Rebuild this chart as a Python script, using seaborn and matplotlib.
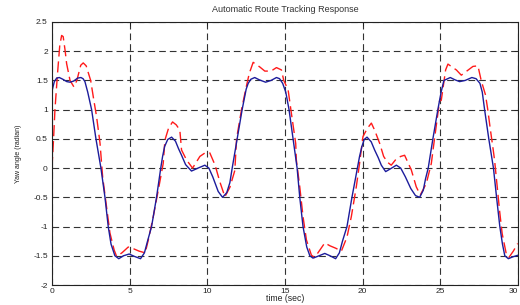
import numpy as np
import pandas as pd
import matplotlib
matplotlib.use("Agg")
import matplotlib.pyplot as plt
import seaborn as sns

# ---- data ----
blue_t = [0.00, 0.15, 0.30, 0.47, 0.70, 0.95, 1.16, 1.40, 1.65, 1.86, 2.00, 2.12, 2.30, 2.55, 2.83,
          3.15, 3.41, 3.62, 3.80, 4.05, 4.30, 4.60, 4.97, 5.30, 5.70, 5.95, 6.15, 6.41, 6.73, 7.00,
          7.12, 7.25, 7.45, 7.70, 7.95, 8.15, 8.34, 8.60, 8.98, 9.40, 9.84, 10.10, 10.35, 10.70,
          10.98, 11.25, 11.45, 11.60, 11.92, 12.24, 12.50, 12.63, 12.80, 13.05, 13.35, 13.75, 14.10,
          14.45, 14.65, 14.85, 15.05, 15.26, 15.52, 15.78, 15.95, 16.16, 16.40, 16.60, 16.80, 17.10,
          17.56, 17.90, 18.26, 18.50, 18.70, 18.99, 19.31, 19.66, 19.80, 19.95, 20.10, 20.28, 20.55,
          20.77, 21.00, 21.20, 21.48, 21.80, 22.17, 22.45, 22.75, 23.10, 23.40, 23.67, 23.90, 24.05,
          24.22, 24.52, 24.84, 25.05, 25.23, 25.64, 25.95, 26.24, 26.60, 27.03, 27.30, 27.55, 27.70,
          27.85, 28.12, 28.42, 28.62, 28.83, 29.00, 29.15, 29.38, 29.65, 30.00]
blue_v = [1.32, 1.48, 1.54, 1.55, 1.52, 1.48, 1.47, 1.49, 1.54, 1.55, 1.53, 1.48, 1.30, 1.00, 0.50,
          0.00, -0.50, -1.00, -1.30, -1.50, -1.55, -1.50, -1.47, -1.51, -1.55, -1.45, -1.25, -1.00, -0.50, 0.00,
          0.20, 0.37, 0.49, 0.53, 0.46, 0.33, 0.22, 0.06, -0.05, 0.00, 0.05, 0.00, -0.15, -0.40,
          -0.50, -0.42, -0.25, 0.00, 0.50, 1.00, 1.35, 1.45, 1.52, 1.55, 1.51, 1.47, 1.50,
          1.55, 1.53, 1.45, 1.30, 1.00, 0.50, 0.00, -0.50, -1.00, -1.35, -1.50, -1.54, -1.51,
          -1.46, -1.50, -1.55, -1.45, -1.25, -1.00, -0.50, 0.00, 0.20, 0.37, 0.49, 0.53, 0.45,
          0.31, 0.18, 0.05, -0.06, -0.01, 0.05, 0.00, -0.15, -0.35, -0.47, -0.50, -0.38, -0.18,
          0.00, 0.50, 1.00, 1.30, 1.50, 1.55, 1.51, 1.48, 1.50, 1.55, 1.53, 1.45, 1.30,
          1.00, 0.50, 0.00, -0.50, -1.00, -1.30, -1.50, -1.55, -1.52, -1.49]

red_t = [0.00, 0.10, 0.19, 0.35, 0.50, 0.62, 0.72, 0.85, 0.94, 1.16, 1.41, 1.60, 1.85, 2.01, 2.20,
         2.35, 2.49, 2.70, 2.87, 3.09, 3.26, 3.51, 3.73, 4.00, 4.16, 4.50, 4.91, 5.25, 5.60, 6.00,
         6.20, 6.52, 6.84, 7.16, 7.27, 7.50, 7.76, 8.00, 8.23, 8.34, 8.66, 9.05, 9.52, 9.85, 10.16,
         10.50, 10.80, 11.13, 11.45, 11.77, 11.88, 12.20, 12.48, 12.70, 12.95, 13.38, 13.70, 14.10,
         14.45, 14.77, 14.92, 15.20, 15.41, 15.69, 15.73, 15.95, 16.16, 16.38, 16.70, 16.91, 17.25,
         17.56, 17.90, 18.26, 18.63, 18.99, 19.27, 19.59, 19.80, 20.02, 20.30, 20.56, 20.77, 21.10,
         21.35, 21.60, 21.84, 22.17, 22.45, 22.70, 23.13, 23.45, 23.71, 24.10, 24.42, 24.55, 24.75,
         24.95, 25.06, 25.34, 25.49, 25.75, 26.03, 26.35, 26.70, 27.10, 27.42, 27.63, 27.91, 28.06,
         28.21, 28.38, 28.49, 28.64, 28.81, 28.98, 29.24, 29.41, 29.70, 29.98]
red_v = [0.00, 0.50, 1.00, 1.60, 2.10, 2.27, 2.25, 2.00, 1.79, 1.50, 1.39, 1.50, 1.76, 1.80, 1.75,
         1.62, 1.50, 1.15, 0.88, 0.43, -0.15, -0.66, -1.11, -1.40, -1.51, -1.45, -1.35, -1.38, -1.42, -1.45,
         -1.23, -0.83, -0.38, 0.08, 0.48, 0.68, 0.79, 0.74, 0.65, 0.31, 0.14, 0.00, 0.20, 0.26, 0.26,
         0.05, -0.23, -0.49, -0.33, -0.04, 0.50, 1.00, 1.36, 1.62, 1.81, 1.73, 1.66, 1.66,
         1.72, 1.68, 1.50, 1.34, 0.94, 0.42, 0.14, -0.32, -0.83, -1.23, -1.49, -1.53, -1.40,
         -1.28, -1.33, -1.37, -1.42, -1.18, -0.83, -0.32, 0.08, 0.54, 0.68, 0.77, 0.65, 0.42,
         0.20, 0.10, 0.05, 0.16, 0.20, 0.22, -0.03, -0.32, -0.46, -0.26, 0.08, 0.35, 0.75,
         1.15, 1.16, 1.68, 1.78, 1.73, 1.68, 1.59, 1.66, 1.74, 1.75, 1.50, 1.25, 0.99,
         0.68, 0.36, 0.14, -0.26, -0.72, -1.12, -1.46, -1.53, -1.42, -1.29]

x_ticks = [0, 5, 10, 15, 20, 25, 30]
y_ticks = [-2, -1.5, -1, -0.5, 0, 0.5, 1, 1.5, 2, 2.5]
y_tick_labels = ["-2", "-1.5", "-1", "-0.5", "0", "0.5", "1", "1.5", "2", "2.5"]

title = "Automatic Route Tracking Response"
xlabel = "time (sec)"
ylabel = "Yaw angle (radian)"

# ---- plotting ----
sns.set_theme(style="white")
plt.rcParams["font.family"] = ["Liberation Sans", "DejaVu Sans"]

fig = plt.figure(figsize=(5.2, 3.05), dpi=100)
ax = fig.add_axes([52 / 520, 20 / 305, 466 / 520, 263 / 305])

red_df = pd.DataFrame({"t": red_t, "v": red_v})
blue_df = pd.DataFrame({"t": blue_t, "v": blue_v})

sns.lineplot(data=red_df, x="t", y="v", ax=ax, color="#ff1a1a", linewidth=1.0,
             estimator=None, sort=False)
ax.lines[-1].set_dashes((8, 3.5))
sns.lineplot(data=blue_df, x="t", y="v", ax=ax, color="#1c1c9c", linewidth=1.0,
             estimator=None, sort=False)

ax.set_xlim(0, 30)
ax.set_ylim(-2, 2.5)
ax.set_xticks(x_ticks)
ax.set_xticklabels([str(v) for v in x_ticks])
ax.set_yticks(y_ticks)
ax.set_yticklabels(y_tick_labels)

ax.grid(True, color="#333333", linestyle=(0, (6, 3.6)), linewidth=0.8)
ax.set_axisbelow(True)
for s in ax.spines.values():
    s.set_color("#222222")
    s.set_linewidth(0.8)
ax.tick_params(direction="in", length=3, width=0.6, top=True, right=True,
               labelsize=6, colors="#222222")
ax.tick_params(axis="x", pad=2)
ax.tick_params(axis="y", pad=3)
# keep the last x tick label inside the figure
ax.get_xticklabels()[-1].set_horizontalalignment("right")

ax.set_title(title, fontsize=6.5, color="#333333", pad=7)
ax.set_xlabel(xlabel, fontsize=6.2, color="#222222")
ax.xaxis.set_label_coords(0.5, -0.036)
ax.set_ylabel(ylabel, fontsize=5, color="#222222", labelpad=8)

fig.savefig("out.png", dpi=100)
